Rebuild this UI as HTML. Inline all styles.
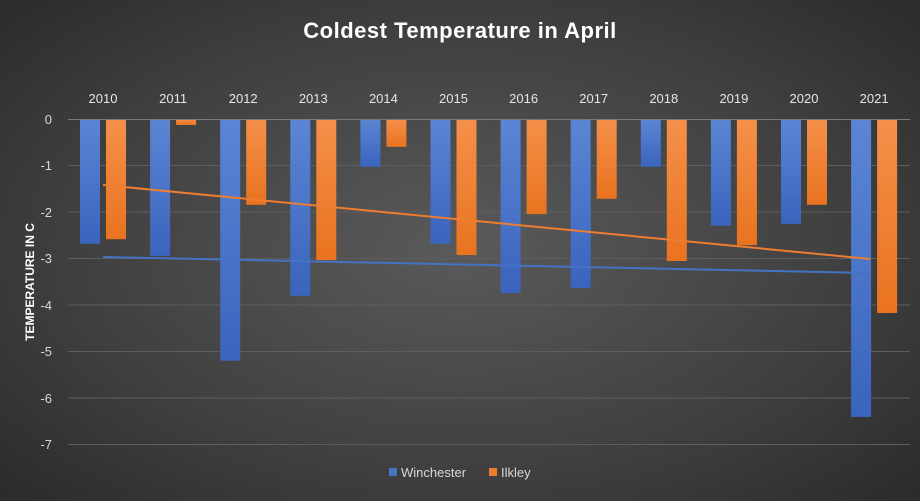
<!DOCTYPE html>
<html><head><meta charset="utf-8"><style>
html,body{margin:0;padding:0}
body{width:920px;height:496px;overflow:hidden;background:radial-gradient(ellipse 75% 80% at 50% 50%,#5a5a5a 0%,#404040 55%,#262626 100%);font-family:"Liberation Sans",sans-serif}
</style></head><body>
<svg width="920" height="496" xmlns="http://www.w3.org/2000/svg" font-family="Liberation Sans, sans-serif">
<defs>
<linearGradient id="b" x1="0" y1="0" x2="0" y2="1"><stop offset="0" stop-color="#5b86d4"/><stop offset="1" stop-color="#3a64bd"/></linearGradient>
<linearGradient id="o" x1="0" y1="0" x2="0" y2="1"><stop offset="0" stop-color="#f5904a"/><stop offset="1" stop-color="#e9731f"/></linearGradient>
</defs>
<text x="460" y="38" fill="#fff" font-size="22" font-weight="bold" text-anchor="middle" letter-spacing="0.5">Coldest Temperature in April</text>
<g stroke="#5e5e5e" stroke-width="1">
<line x1="68" x2="910" y1="165.5" y2="165.5"/><line x1="68" x2="910" y1="212" y2="212"/><line x1="68" x2="910" y1="258.5" y2="258.5"/><line x1="68" x2="910" y1="305" y2="305"/><line x1="68" x2="910" y1="351.5" y2="351.5"/><line x1="68" x2="910" y1="398" y2="398"/><line x1="68" x2="910" y1="444.5" y2="444.5"/>
</g>
<g fill="#d9d9d9" font-size="13" text-anchor="end">
<text x="52" y="124">0</text><text x="52" y="170">-1</text><text x="52" y="217">-2</text><text x="52" y="263">-3</text><text x="52" y="310">-4</text><text x="52" y="356">-5</text><text x="52" y="403">-6</text><text x="52" y="449">-7</text>
</g>
<text transform="translate(34,282) rotate(-90)" fill="#fff" font-size="12" font-weight="bold" text-anchor="middle">TEMPERATURE IN C</text>
<g fill="url(#b)">
<rect x="80" y="119" width="20" height="124.8"/>
<rect x="150.1" y="119" width="20" height="136.9"/>
<rect x="220.2" y="119" width="20" height="241.7"/>
<rect x="290.3" y="119" width="20" height="176.8"/>
<rect x="360.4" y="119" width="20" height="47.8"/>
<rect x="430.5" y="119" width="20" height="124.8"/>
<rect x="500.6" y="119" width="20" height="174"/>
<rect x="570.7" y="119" width="20" height="168.9"/>
<rect x="640.8" y="119" width="20" height="47.8"/>
<rect x="710.9" y="119" width="20" height="106.7"/>
<rect x="781" y="119" width="20" height="104.9"/>
<rect x="851.1" y="119" width="20" height="297.9"/>
</g>
<g fill="url(#o)">
<rect x="106" y="119" width="20" height="120.2"/>
<rect x="176.1" y="119" width="20" height="6"/>
<rect x="246.2" y="119" width="20" height="85.8"/>
<rect x="316.3" y="119" width="20" height="141.1"/>
<rect x="386.4" y="119" width="20" height="27.8"/>
<rect x="456.5" y="119" width="20" height="136"/>
<rect x="526.6" y="119" width="20" height="95.1"/>
<rect x="596.7" y="119" width="20" height="79.8"/>
<rect x="666.8" y="119" width="20" height="142"/>
<rect x="736.9" y="119" width="20" height="126.2"/>
<rect x="807" y="119" width="20" height="85.8"/>
<rect x="877.1" y="119" width="20" height="194"/>
</g>
<g fill="#e6e6e6" font-size="13" text-anchor="middle">
<text x="103" y="103">2010</text><text x="173.1" y="103">2011</text><text x="243.2" y="103">2012</text><text x="313.3" y="103">2013</text><text x="383.4" y="103">2014</text><text x="453.5" y="103">2015</text><text x="523.6" y="103">2016</text><text x="593.7" y="103">2017</text><text x="663.8" y="103">2018</text><text x="733.9" y="103">2019</text><text x="804" y="103">2020</text><text x="874.1" y="103">2021</text>
</g>
<line x1="68" x2="910" y1="119.5" y2="119.5" stroke="#7a7a7a"/>
<line x1="103" y1="185" x2="870" y2="259" stroke="#ed7d31" stroke-width="2"/>
<line x1="103" y1="257" x2="870" y2="273" stroke="#4472c4" stroke-width="2"/>
<rect x="389" y="468" width="8" height="8" fill="#4472c4"/>
<text x="401" y="477" fill="#d9d9d9" font-size="13">Winchester</text>
<rect x="489" y="468" width="8" height="8" fill="#ed7d31"/>
<text x="501" y="477" fill="#d9d9d9" font-size="13">Ilkley</text>
</svg>
</body></html>
